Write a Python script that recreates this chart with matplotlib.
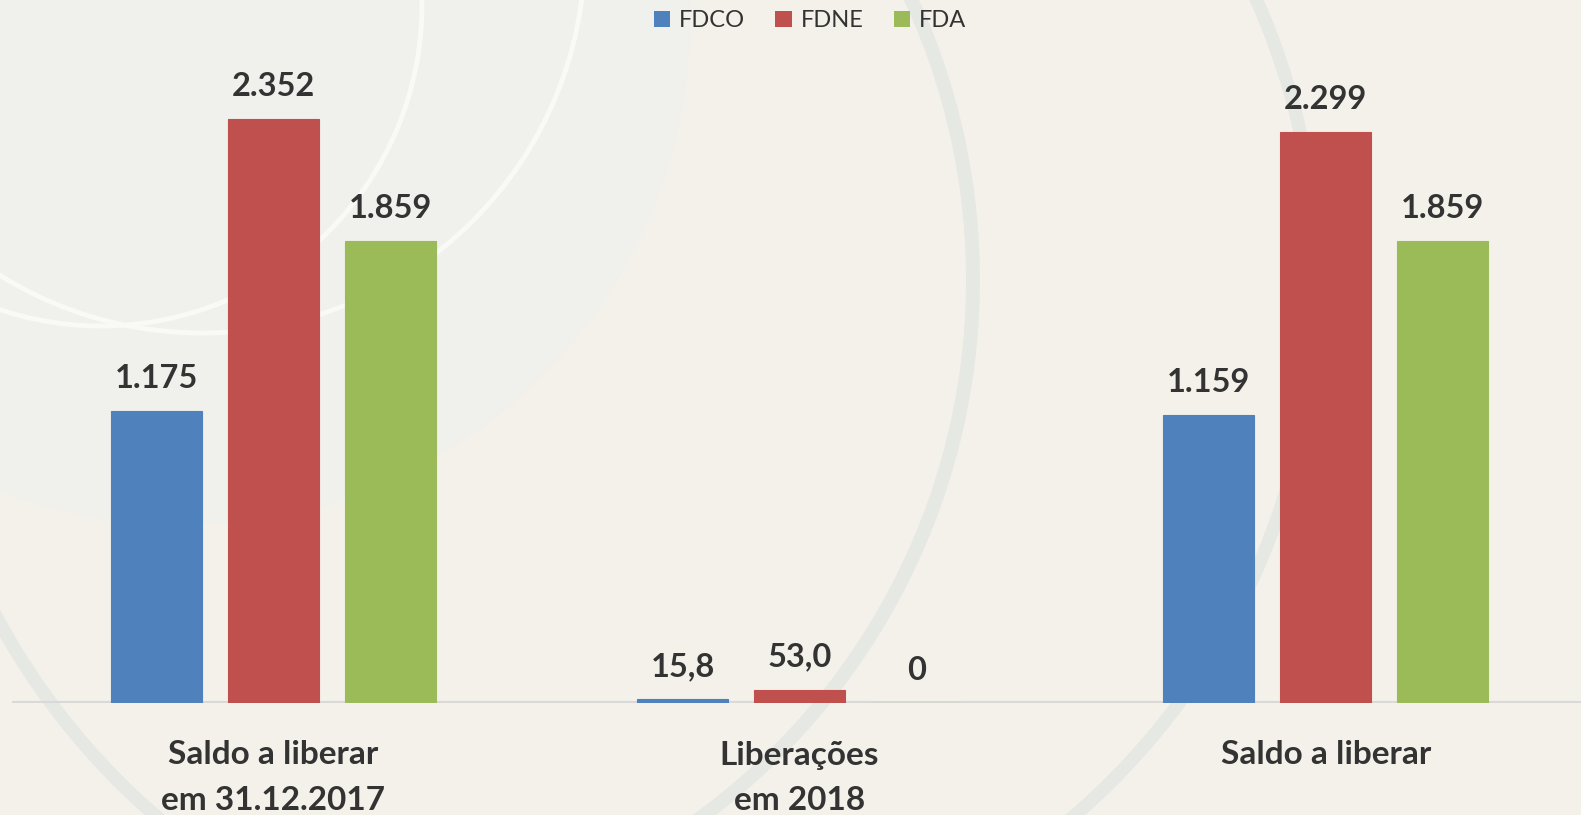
import matplotlib
matplotlib.use("Agg")
import matplotlib.pyplot as plt
from matplotlib.patches import Circle, Patch
import numpy as np

# ---- data ----
categories = ["Saldo a liberar\nem 31.12.2017", "Liberações\nem 2018", "Saldo a liberar"]
series_names = ["FDCO", "FDNE", "FDA"]
fdco = [1175, 15.8, 1159]
fdne = [2352, 53.0, 2299]
fda = [1859, 0, 1859]
colors = ["#4F81BD", "#C0504D", "#9BBB59"]


def fmt(v):
    if v == 0:
        return "0"
    if v >= 100:
        return f"{v:,.0f}".replace(",", ".")
    return f"{v:.1f}".replace(".", ",")


W, H = 1581, 815
fig = plt.figure(figsize=(W / 100, H / 100), dpi=100)
fig.patch.set_facecolor("#F4F1EA")

# ---- decorative background ----
bg = fig.add_axes([0, 0, 1, 1], zorder=0)
bg.set_xlim(0, W)
bg.set_ylim(H, 0)
bg.axis("off")
bg.add_patch(Circle((306, 280), 667, fill=False, ec="#E6E8E4", lw=10))
bg.add_patch(Circle((615, 285), 702, fill=False, ec="#E6E8E4", lw=9.5))
bg.add_patch(Circle((182, 17), 508, fc="#F0F0EC", ec="none"))
bg.add_patch(Circle((101, 5), 321, fill=False, ec="#F9F9F6", lw=3.5))
bg.add_patch(Circle((202, -50), 383, fill=False, ec="#F9F9F6", lw=3.5))

# ---- main chart ----
base_px = 703
ax = fig.add_axes([12 / W, (H - base_px) / H, 1 - 12 / W, base_px / H], zorder=1)
ax.set_facecolor("none")
x = np.arange(len(categories))
bw = 0.1723
off = 0.2223
txt = "#333333"
font = "Lato"
for i, (vals, col, name) in enumerate(zip([fdco, fdne, fda], colors, series_names)):
    bars = ax.bar(x + (i - 1) * off, vals, width=bw, color=col, label=name,
                  edgecolor=col, linewidth=0.8, zorder=3)
    ax.bar_label(bars, labels=[fmt(v) for v in vals], padding=13,
                 fontsize=23.5, fontweight="bold", color=txt, family=font)

ax.set_xlim(-0.4963, 2.4849)
ax.set_ylim(0, 2830)
ax.axhline(0, color="#D9D9D9", lw=3, zorder=2)
for s in ax.spines.values():
    s.set_visible(False)
ax.set_yticks([])
ax.set_xticks(x)
ax.set_xticklabels(categories, fontsize=24, fontweight="bold", color=txt,
                   family=font, linespacing=1.7)
ax.tick_params(axis="x", length=0, pad=27)

handles = [Patch(facecolor=c, edgecolor="none") for c in colors]
fig.legend(handles, series_names, loc="center", bbox_to_anchor=(810 / W, 1 - 20.5 / H),
           ncol=3, frameon=False, handlelength=0.68, handleheight=0.68,
           handletextpad=0.38, columnspacing=1.3, labelcolor=txt,
           prop={"family": font, "size": 17})

fig.savefig("out.png", dpi=100, facecolor=fig.get_facecolor())
